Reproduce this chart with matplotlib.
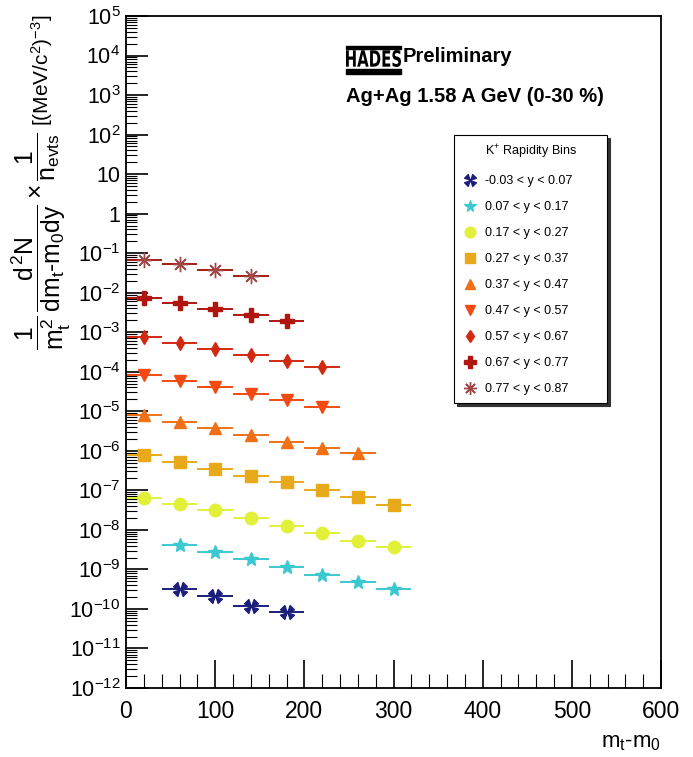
import numpy as np
import matplotlib
matplotlib.use("Agg")
import matplotlib.pyplot as plt
from matplotlib.lines import Line2D
from matplotlib.patches import Rectangle, PathPatch
from matplotlib.path import Path
from matplotlib.textpath import TextPath
from matplotlib.font_manager import FontProperties
from matplotlib.transforms import Affine2D
from matplotlib.ticker import FixedLocator, LogLocator, FuncFormatter, NullFormatter

plt.rcParams['font.family'] = ['Liberation Sans', 'DejaVu Sans']
plt.rcParams['mathtext.fontset'] = 'custom'
plt.rcParams['mathtext.rm'] = 'Liberation Sans'
plt.rcParams['mathtext.it'] = 'Liberation Sans'
plt.rcParams['mathtext.bf'] = 'Liberation Sans:bold'

# data: mt-m0 bin centres (MeV) and spectra per rapidity bin
bin_half_width = 20
labels = ['-0.03 < y < 0.07', '0.07 < y < 0.17', '0.17 < y < 0.27',
          '0.27 < y < 0.37', '0.37 < y < 0.47', '0.47 < y < 0.57',
          '0.57 < y < 0.67', '0.67 < y < 0.77', '0.77 < y < 0.87']
x_bins = [
    [60, 100, 140, 180],
    [60, 100, 140, 180, 220, 260, 300],
    [20, 60, 100, 140, 180, 220, 260, 300],
    [20, 60, 100, 140, 180, 220, 260, 300],
    [20, 60, 100, 140, 180, 220, 260],
    [20, 60, 100, 140, 180, 220],
    [20, 60, 100, 140, 180, 220],
    [20, 60, 100, 140, 180],
    [20, 60, 100, 140],
]
y_vals = [
    [3.2e-10, 2.1e-10, 1.17e-10, 8.3e-11],
    [4.2e-9, 2.8e-9, 1.8e-9, 1.13e-9, 7.4e-10, 4.7e-10, 3.2e-10],
    [6.3e-8, 4.5e-8, 3.2e-8, 1.95e-8, 1.26e-8, 8.1e-9, 5.3e-9, 3.6e-9],
    [7.8e-7, 5.3e-7, 3.4e-7, 2.3e-7, 1.6e-7, 1.05e-7, 6.9e-8, 4.3e-8],
    [8.1e-6, 5.5e-6, 3.7e-6, 2.5e-6, 1.7e-6, 1.2e-6, 8.9e-7],
    [8.5e-5, 5.9e-5, 4.0e-5, 2.7e-5, 1.9e-5, 1.3e-5],
    [7.8e-4, 5.3e-4, 3.8e-4, 2.7e-4, 1.9e-4, 1.3e-4],
    [7.4e-3, 5.4e-3, 3.8e-3, 2.7e-3, 1.9e-3],
    [0.066, 0.054, 0.037, 0.026],
]

colors = ['#1c1f7a', '#3cc8d0', '#e2f03a', '#e8aa1a', '#f07018',
          '#f24a12', '#d22a12', '#b01510', '#a24848']
line_colors = ['#1c1f7a', '#3cc8d0', '#e2f03a', '#e8aa1a', '#f07018',
               '#f24a12', '#d22a12', '#b01510', '#a81a14']


# four triangles pointing to the centre, arranged as an X
def four_triangles_x():
    verts, codes = [], []
    for ang in (45, 135, 225, 315):
        a = np.radians(ang)
        d = np.array([np.cos(a), np.sin(a)])
        p = np.array([-np.sin(a), np.cos(a)])
        pts = [0.12 * d, 1.0 * d + 0.45 * p, 1.0 * d - 0.45 * p, 0.12 * d]
        verts += [tuple(v) for v in pts]
        codes += [Path.MOVETO, Path.LINETO, Path.LINETO, Path.CLOSEPOLY]
    return Path(verts, codes)


markers = [four_triangles_x(), '*', 'o', 's', '^', 'v', 'd', 'P', (8, 2, 0)]
msizes = [10, 10, 9, 8.5, 9, 9, 7, 10, 11]

W, H = 693, 757
fig = plt.figure(figsize=(6.93, 7.57), dpi=100)
ax = fig.add_axes([126 / W, 69 / H, 535 / W, 672 / H])

for i in range(len(labels)):
    ax.errorbar(x_bins[i], y_vals[i], xerr=bin_half_width, fmt='none',
                ecolor=line_colors[i], elinewidth=1.4, capsize=0, zorder=2)
    ax.plot(x_bins[i], y_vals[i], linestyle='none', marker=markers[i],
            ms=msizes[i], color=colors[i], mec=colors[i], mew=1.0, zorder=3)

ax.set_yscale('log')
ax.set_xlim(0, 600)
ax.set_ylim(1e-12, 1e5)

ax.xaxis.set_major_locator(FixedLocator([0, 100, 200, 300, 400, 500, 600]))
ax.xaxis.set_minor_locator(FixedLocator(np.arange(0, 601, 20)))
ax.yaxis.set_major_locator(FixedLocator([10.0 ** k for k in range(-12, 6)]))
ax.yaxis.set_minor_locator(LogLocator(base=10, subs=np.arange(2, 10), numticks=40))
ax.yaxis.set_minor_formatter(NullFormatter())


def log_label(v, pos):
    k = int(round(np.log10(v)))
    if k == 0:
        return '1'
    if k == 1:
        return '10'
    return r'$10^{%d}$' % k


ax.yaxis.set_major_formatter(FuncFormatter(log_label))
ax.tick_params(axis='both', which='both', direction='in', top=False, right=False,
               color='black')
ax.tick_params(axis='y', which='major', length=16, width=1.2, pad=4, labelsize=15.5)
ax.tick_params(axis='y', which='minor', length=8, width=0.8)
ax.tick_params(axis='x', which='major', length=20, width=1.2, pad=9, labelsize=16.5)
ax.tick_params(axis='x', which='minor', length=10, width=0.8)
for s in ax.spines.values():
    s.set_linewidth(1.3)

ax.set_xlabel(r'm$_\mathregular{t}$-m$_\mathregular{0}$', fontsize=16, loc='right',
              labelpad=6)

# y title: fractions and units as two rotated texts (ROOT-like)
fig.text(41 / W, 1 - 241 / H,
         r'$\dfrac{1}{m_t^2}\,\dfrac{d^2N}{dm_t\text{-}m_0dy}\times\dfrac{1}{n_{evts}}$',
         fontsize=17.8, rotation=90, ha='center', va='center')
fig.text(42 / W, 1 - 70 / H, r'[(MeV/c$^{2}$)$^{-3}$]', fontsize=15,
         rotation=90, ha='center', va='center')

# HADES logo + labels
lx0, lx1 = 346, 401
fig.patches.append(Rectangle((lx0 / W, 1 - 49 / H), (lx1 - lx0) / W, 3 / H,
                             transform=fig.transFigure, color='black'))
fig.patches.append(Rectangle((lx0 / W, 1 - 74 / H), (lx1 - lx0) / W, 5 / H,
                             transform=fig.transFigure, color='black'))
tp = TextPath((0, 0), 'HADES', size=1,
              prop=FontProperties(family='DejaVu Sans', weight='bold'))
bb = tp.get_extents()
logo_tr = (Affine2D().translate(-bb.x0, -bb.y0)
           .scale((lx1 - lx0) / bb.width, 17 / bb.height)
           .translate(lx0, H - 67))
fig.patches.append(PathPatch(tp, transform=logo_tr, color='black', lw=0))
fig.text(403 / W, 1 - 57 / H, 'Preliminary', fontsize=14.5, fontweight='bold',
         ha='left', va='center')
fig.text(346 / W, 1 - 97 / H, 'Ag+Ag 1.58 A GeV (0-30 %)', fontsize=14.5,
         fontweight='bold', ha='left', va='center')

# legend: header row as an entry without marker
handles = [Line2D([], [], linestyle='none', marker='none')]
handles += [Line2D([], [], linestyle='none', marker=markers[i], ms=msizes[i] * 0.85,
                   color=colors[i], mec=colors[i]) for i in range(len(labels))]
leg = fig.legend(handles, [r'K$^{+}$ Rapidity Bins'] + labels,
                 loc='upper left', mode='expand',
                 bbox_to_anchor=(454 / W, 1 - 135 / H - 0.01, 153 / W, 0.01),
                 fontsize=9, frameon=True, fancybox=False,
                 shadow={'color': '0.2', 'alpha': 1.0}, edgecolor='black',
                 labelspacing=1.12, handlelength=1.2, handletextpad=0.6,
                 borderpad=0.65, borderaxespad=0)
leg.get_frame().set_linewidth(0.8)

fig.savefig('out.png', dpi=100)
